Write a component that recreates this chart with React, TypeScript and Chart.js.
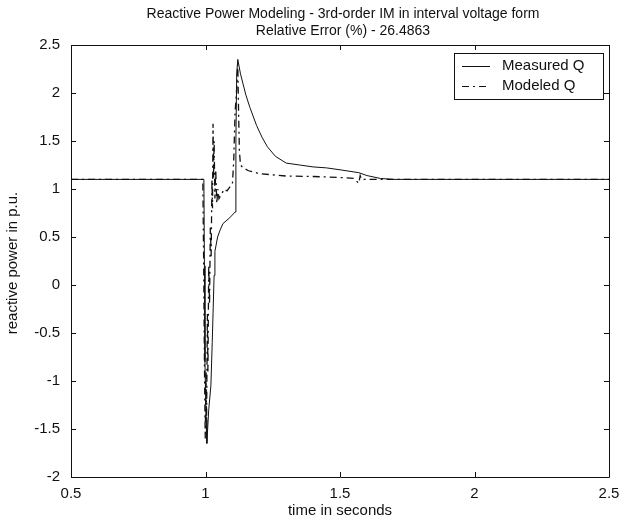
import React, { useEffect, useRef } from "react";
import { Chart, registerables } from "chart.js";
Chart.register(...registerables);

const titleLines = [
  "Reactive Power Modeling - 3rd-order IM in interval voltage form",
  "Relative Error (%) - 26.4863",
];
const xAxisTitle = "time in seconds";
const yAxisTitle = "reactive power in p.u.";
const legendLabels = ["Measured Q", "Modeled Q"];
const xTicks = [0.5, 1, 1.5, 2, 2.5];
const yTicks = [-2, -1.5, -1, -0.5, 0, 0.5, 1, 1.5, 2, 2.5];

const measuredT = [
  0.5, 0.994, 0.996, 0.998, 1.002, 1.005, 1.012, 1.02, 1.025, 1.028, 1.032, 1.035,
  1.045, 1.054, 1.065, 1.09, 1.11, 1.113, 1.116, 1.12, 1.13, 1.15, 1.165,
  1.19, 1.21, 1.23, 1.26, 1.3, 1.35, 1.4, 1.45, 1.5, 1.57, 1.6, 1.65, 1.7, 1.8,
  2.0, 2.5,
];
const measuredQ = [
  1.1, 1.1, 0.2, -0.8, -1.4, -1.65, -1.3, -1.05, -0.6, -0.3, 0.1, 0.35,
  0.5, 0.57, 0.64, 0.7, 0.76, 1.5, 2.2, 2.35, 2.2, 1.98, 1.85,
  1.66, 1.54, 1.44, 1.34, 1.27, 1.25, 1.23, 1.22, 1.2, 1.17, 1.14, 1.11, 1.1, 1.1,
  1.1, 1.1,
];

const modeledT = [
  0.5, 0.99, 0.993, 0.996, 0.999, 1.002, 1.004, 1.007, 1.009, 1.012, 1.015, 1.018,
  1.021, 1.024, 1.026, 1.028, 1.03, 1.032, 1.035, 1.038, 1.042, 1.046, 1.05, 1.06,
  1.07, 1.08, 1.09, 1.1, 1.105, 1.11, 1.115, 1.12, 1.123, 1.126, 1.13, 1.14,
  1.16, 1.2, 1.3, 1.4, 1.5, 1.55, 1.57, 1.575, 1.58, 1.7, 2.0, 2.5,
];
const modeledQ = [
  1.1, 1.1, 0.3, -0.8, -1.6, -0.9, -1.4, -0.3, -0.9, 0.2, -0.2, 0.6,
  0.3, 1.1, 0.8, 1.68, 1.1, 1.5, 0.9, 1.2, 0.85, 1.0, 0.9, 0.95,
  1.0, 0.98, 1.02, 1.05, 1.3, 1.8, 2.0, 2.3, 1.8, 1.4, 1.25, 1.22,
  1.19, 1.16, 1.135, 1.13, 1.12, 1.11, 1.06, 1.14, 1.1, 1.1, 1.1, 1.1,
];

const FONT = "'Liberation Sans', Arial, Helvetica, sans-serif";
const INK = "#111111";

const framePlugin = {
  id: "matlabFrame",
  afterDraw(chart: any) {
    const ctx = chart.ctx as CanvasRenderingContext2D;
    const { left, right, top, bottom } = chart.chartArea;
    const xs = chart.scales.x;
    const ys = chart.scales.y;
    ctx.save();
    ctx.strokeStyle = INK;
    ctx.lineWidth = 1;
    ctx.beginPath();
    ctx.rect(Math.round(left) + 0.5, Math.round(top) + 0.5, Math.round(right - left), Math.round(bottom - top));
    ctx.stroke();
    const tl = 5;
    ctx.beginPath();
    xTicks.forEach((v) => {
      const px = Math.round(xs.getPixelForValue(v)) + 0.5;
      ctx.moveTo(px, bottom);
      ctx.lineTo(px, bottom - tl);
      ctx.moveTo(px, top);
      ctx.lineTo(px, top + tl);
    });
    yTicks.forEach((v) => {
      const py = Math.round(ys.getPixelForValue(v)) + 0.5;
      ctx.moveTo(left, py);
      ctx.lineTo(left + tl, py);
      ctx.moveTo(right, py);
      ctx.lineTo(right - tl, py);
    });
    ctx.stroke();

    // titles
    ctx.fillStyle = INK;
    ctx.font = `14px ${FONT}`;
    ctx.textAlign = "center";
    ctx.textBaseline = "middle";
    const cx = (left + right) / 2;
    ctx.fillText(titleLines[0], cx + 3, 14);
    ctx.fillText(titleLines[1], cx + 3, 31);
    ctx.font = `15px ${FONT}`;
    ctx.fillText(xAxisTitle, cx, 511);
    ctx.save();
    ctx.translate(13, 263);
    ctx.rotate(-Math.PI / 2);
    ctx.fillText(yAxisTitle, 0, 0);
    ctx.restore();

    // legend
    const lx = 454, ly = 53, lw = 149, lh = 46;
    ctx.fillStyle = "#ffffff";
    ctx.fillRect(lx, ly, lw, lh);
    ctx.strokeStyle = INK;
    ctx.strokeRect(lx + 0.5, ly + 0.5, lw, lh);
    ctx.beginPath();
    ctx.setLineDash([]);
    ctx.moveTo(462, 66.5);
    ctx.lineTo(490, 66.5);
    ctx.stroke();
    ctx.beginPath();
    ctx.setLineDash([7, 4, 2, 4]);
    ctx.moveTo(462, 86.5);
    ctx.lineTo(490, 86.5);
    ctx.stroke();
    ctx.setLineDash([]);
    ctx.fillStyle = INK;
    ctx.textAlign = "left";
    ctx.font = `15px ${FONT}`;
    ctx.fillText(legendLabels[0], 502, 66);
    ctx.fillText(legendLabels[1], 502, 86);
    ctx.restore();
  },
};

export default function App() {
  const ref = useRef<HTMLCanvasElement | null>(null);
  useEffect(() => {
    document.body.style.margin = "0";
    const canvas = ref.current!;
    const chart = new Chart(canvas, {
      type: "line",
      data: {
        datasets: [
          {
            label: legendLabels[0],
            data: measuredT.map((t, i) => ({ x: t, y: measuredQ[i] })),
            borderColor: INK,
            borderWidth: 1,
            pointRadius: 0,
            tension: 0,
          },
          {
            label: legendLabels[1],
            data: modeledT.map((t, i) => ({ x: t, y: modeledQ[i] })),
            borderColor: INK,
            borderWidth: 1.3,
            borderDash: [7, 4, 2, 4],
            pointRadius: 0,
            tension: 0,
          },
        ],
      },
      options: {
        responsive: false,
        animation: false,
        layout: { padding: { left: 0, right: 27, top: 45, bottom: 0 } },
        plugins: { legend: { display: false }, tooltip: { enabled: false }, title: { display: false } },
        scales: {
          x: {
            type: "linear",
            min: 0.5,
            max: 2.5,
            afterBuildTicks: (s: any) => { s.ticks = xTicks.map((v) => ({ value: v })); },
            afterFit: (s: any) => { s.height = 46; },
            grid: { display: false },
            border: { display: false },
            ticks: { color: INK, font: { family: FONT, size: 15 }, padding: 0, maxRotation: 0, autoSkip: false, callback: (v: any) => String(v) },
          },
          y: {
            type: "linear",
            min: -2,
            max: 2.5,
            afterBuildTicks: (s: any) => { s.ticks = yTicks.map((v) => ({ value: v })); },
            afterFit: (s: any) => { s.width = 71; },
            grid: { display: false },
            border: { display: false },
            ticks: { color: INK, font: { family: FONT, size: 15 }, padding: 3, autoSkip: false, callback: (v: any) => String(v) },
          },
        },
      },
      plugins: [framePlugin],
    } as any);
    return () => chart.destroy();
  }, []);
  return (
    <div style={{ width: 636, height: 523, background: "#fff" }}>
      <canvas ref={ref} width={636} height={523} />
    </div>
  );
}
